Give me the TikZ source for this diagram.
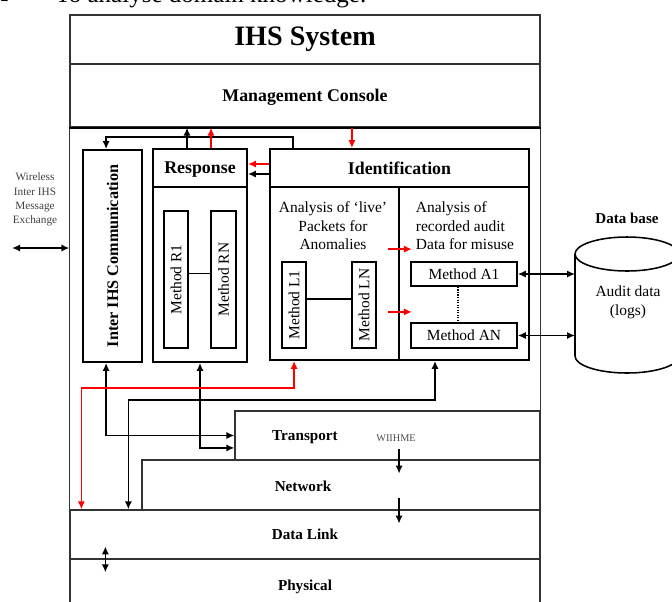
\documentclass[tikz,border=0pt]{standalone}
\usepackage{fontspec}
\setmainfont{Liberation Serif}
\usetikzlibrary{arrows.meta}

\begin{document}
\begin{tikzpicture}[x=0.25mm, y=-0.25mm,
    frame/.style  = {draw=black!80, line width=0.9pt, inner sep=0pt},
    box/.style    = {draw, line width=1.3pt, inner sep=0pt},
    meth/.style   = {draw, line width=1.2pt, inner sep=0pt, font=\fontsize{11}{13}\selectfont},
    head/.style   = {text depth=0pt, font=\fontsize{12.7}{15}\selectfont\bfseries},
    layer/.style  = {font=\fontsize{10.8}{13}\selectfont\bfseries},
    note/.style   = {align=center, font=\fontsize{11}{13.1}\selectfont},
    flow/.style   = {-{Latex[length=2mm, width=1.8mm]}, line width=1.2pt},
    duplex/.style = {{Latex[length=2mm, width=1.8mm]}-{Latex[length=2mm, width=1.8mm]}, line width=1.2pt},
  ]
    \useasboundingbox (0,0) rectangle (672,601);

    % --- page text cut by the figure ---
    \node[anchor=base west, inner sep=0pt, font=\fontsize{17.8}{20}\selectfont] (pgdash) at (0,6.5) {-};
    \node[anchor=base west, inner sep=0pt, font=\fontsize{17.8}{20}\selectfont] (pgline) at (55,2.5) {To analyse domain knowledge.};

    % --- outer frame and protocol stack ---
    \node[frame, minimum width=117.5mm, minimum height=12.25mm, font=\fontsize{20}{24}\selectfont\bfseries] (ihs) at (305,39.5) {IHS System};
    \node[frame, head, minimum width=117.5mm, minimum height=15.75mm] (mgmt) at (305,95.5) {Management Console};
    \node[frame, minimum width=76.25mm, minimum height=12.25mm] (trans) at (387.5,435.5) {};
    \node[frame, minimum width=99.5mm, minimum height=12.5mm] (net) at (341,485) {};
    \node[frame, layer, minimum width=117.5mm, minimum height=12.25mm] (dlink) at (305,534.5) {Data Link};
    \node[frame, layer, minimum width=117.5mm, minimum height=14mm] (phys) at (305,587) {Physical};
    \draw[frame] (mgmt.south west) rectangle (phys.south east);
    \draw[line width=1.6pt] (mgmt.south west) -- (mgmt.south east);
    \node[layer] (translbl) at (305,437) {Transport};
    \node[layer] (netlbl) at (303,486) {Network};
    \node[text=black!70, font=\fontsize{7.3}{9}\selectfont] (wiihme) at (396,438) {WIIHME};

    % --- communication and response ---
    \node[box, minimum width=14.75mm, minimum height=53mm, font=\fontsize{11.5}{14}\selectfont\bfseries] (comm) at (112.5,256) {\rotatebox{90}{Inter IHS Communication}};
    \node[box, head, minimum width=23.5mm, minimum height=9.5mm] (resph) at (200,168) {Response};
    \node[box, minimum width=23.5mm, minimum height=43.75mm] (respb) at (200,274.5) {};
    \node[meth, minimum width=6mm, minimum height=34.25mm] (r1) at (176,279.5) {\rotatebox{90}{Method R1}};
    \node[meth, minimum width=6.25mm, minimum height=34.25mm] (rn) at (223.5,279.5) {\rotatebox{90}{Method RN}};
    \draw[line width=0.8pt] ([yshift=1.4mm]r1.east) -- ([yshift=1.4mm]rn.west);

    % --- identification ---
    \node[box, head, minimum width=64.75mm, minimum height=9.5mm] (idh) at (399.5,168) {Identification};
    \node[box, minimum width=32.25mm, minimum height=43.25mm] (idl) at (334.5,273.5) {};
    \node[box, minimum width=32.5mm, minimum height=43.25mm] (idr) at (464,273.5) {};
    \node[note] (livetxt) at (333,226) {Analysis of `live'\\ Packets for\\ Anomalies};
    \node[note, align=left, anchor=west] (audtxt) at (411,226) {Analysis of\\ recorded audit\\ Data for misuse};
    \node[meth, minimum width=6mm, minimum height=21.5mm] (l1) at (294,305) {\rotatebox{90}{Method L1}};
    \node[meth, minimum width=6mm, minimum height=21.5mm] (ln) at (364,305) {\rotatebox{90}{Method LN}};
    \node[meth, minimum width=26.5mm, minimum height=6mm] (a1) at (464,274) {Method A1};
    \node[meth, minimum width=26.5mm, minimum height=6.25mm] (an) at (464,335.5) {Method AN};
    \draw[line width=0.8pt] ([yshift=1.5mm]l1.east) -- ([yshift=1.5mm]ln.west);
    \draw[line width=0.8pt, densely dotted] ([xshift=-1.5mm]a1.south) -- ([xshift=-1.5mm]an.north);
    \draw[flow, red, line width=1pt] ([xshift=-3mm, yshift=6.1mm]idl.east) -- ++(24,0);
    \draw[flow, red, line width=1pt] ([xshift=-3mm, yshift=-9.6mm]idl.east) -- ++(24,0);

    % --- database ---
    \node[font=\fontsize{10.7}{13}\selectfont\bfseries] (dbl) at (627,218) {Data base};
    \coordinate (cylw) at (575,254);
    \draw[line width=1.1pt] (cylw) -- (575,356) arc[start angle=180, end angle=360, x radius=13mm, y radius=4.25mm] -- (679,254);
    \draw[line width=1.1pt] (627,254) ellipse [x radius=13mm, y radius=4.25mm];
    \node[note, font=\fontsize{11}{13.5}\selectfont] (audit) at (628,302) {Audit data\\ (logs)};
    \draw[duplex] (a1.east) -- (a1.east -| cylw);
    \draw[duplex] (an.east) -- (an.east -| cylw);

    % --- wireless exchange ---
    \node[align=center, text=black!75, font=\fontsize{8}{10.2}\selectfont] (wless) at (35,199.5) {Wireless\\ Inter IHS\\ Message\\ Exchange};
    \coordinate (wext) at (12,248);
    \draw[duplex] (wext) -- (wext -| mgmt.west);

    % --- links up to the console ---
    \coordinate (rsup) at ([xshift=-3.25mm]resph.north);
    \coordinate (rsred) at ([xshift=2.75mm]resph.north);
    \coordinate (iddown) at ([xshift=-11.9mm]idh.north);
    \draw[flow] ([xshift=6mm]idh.north west) -- ++(0,-11) -| ([xshift=-1.6mm]comm.north);
    \draw[flow] (rsup) -- (rsup |- mgmt.south);
    \draw[flow, red] (rsred) -- (rsred |- mgmt.south);
    \draw[flow, red] (iddown |- mgmt.south) -- (iddown);
    \draw[flow, red] ([yshift=1mm]idh.west) -- ([yshift=1mm]resph.east);
    \draw[flow] ([yshift=-1.5mm]idh.west) -- ([yshift=-1.5mm]resph.east);

    % --- links down to the stack ---
    \draw[duplex] ([xshift=-1.6mm]comm.south) |- (trans.west);
    \draw[duplex] (respb.south) |- ([yshift=-3.1mm]trans.west);
    \draw[duplex, red] ([xshift=-10.1mm]idl.south) -- ++(0,27) -| ([xshift=3mm]dlink.north west);
    \draw[duplex] ([xshift=-7.25mm]idr.south) -- ++(0,39) -| ([xshift=14.75mm]dlink.north west);
    \draw[flow] ([xshift=2.9mm, yshift=3mm]trans.south) -- ([xshift=2.9mm, yshift=-3.25mm]trans.south);
    \draw[flow] ([xshift=14.5mm, yshift=3.25mm]net.south) -- ([xshift=14.5mm, yshift=-3.25mm]net.south);
    \draw[duplex] ([xshift=9mm, yshift=3mm]phys.north west) -- ([xshift=9mm, yshift=-3.5mm]phys.north west);
\end{tikzpicture}
\end{document}
